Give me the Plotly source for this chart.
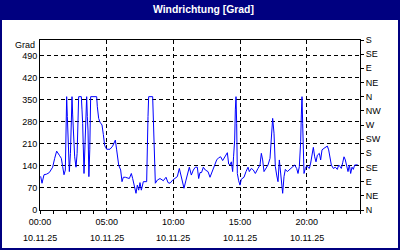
import plotly.graph_objects as go

# ---- data ----
day = "2025-11-10"
times = [
    "00:03", "00:09", "00:18", "00:30", "00:42", "00:51", "00:57", "01:06", "01:15", "01:27",
    "01:36", "01:42", "01:48", "01:54", "01:57", "02:00", "02:03", "02:07", "02:12", "02:17",
    "02:21", "02:24", "02:27", "02:31", "02:36", "02:42", "02:47", "02:54", "03:06", "03:09",
    "03:12", "03:18", "03:22", "03:27", "03:30", "03:33", "03:36", "03:40", "03:44", "03:48",
    "04:15", "04:18", "04:24", "04:30", "04:39", "04:45", "04:51", "05:00", "05:15", "05:27",
    "05:39", "05:45", "05:54", "06:03", "06:09", "06:15", "06:24", "06:42", "06:51", "06:57",
    "07:03", "07:12", "07:18", "07:24", "07:30", "07:36", "07:45", "08:00", "08:06", "08:09",
    "08:27", "08:30", "08:39", "08:48", "09:00", "09:15", "09:27", "09:36", "09:45", "09:57",
    "10:09", "10:18", "10:27", "10:33", "10:42", "10:48", "10:57", "11:06", "11:12", "11:21",
    "11:30", "11:39", "11:48", "11:54", "12:00", "12:07", "12:15", "12:24", "12:36", "12:45",
    "12:54", "13:03", "13:15", "13:24", "13:33", "13:42", "13:54", "14:03", "14:09", "14:15",
    "14:21", "14:27", "14:31", "14:36", "14:39", "14:42", "14:45", "14:48", "14:54", "15:00",
    "15:06", "15:18", "15:27", "15:36", "15:42", "15:51", "16:00", "16:09", "16:21", "16:30",
    "16:36", "16:42", "16:48", "16:57", "17:06", "17:15", "17:21", "17:27", "17:33", "17:39",
    "17:45", "17:51", "17:57", "18:03", "18:09", "18:12", "18:18", "18:24", "18:33", "18:42",
    "18:51", "19:06", "19:15", "19:21", "19:27", "19:33", "19:36", "19:39", "19:42", "19:45",
    "19:48", "19:54", "20:00", "20:06", "20:12", "20:18", "20:24", "20:30", "20:36", "20:42",
    "20:48", "20:57", "21:03", "21:09", "21:18", "21:27", "21:33", "21:39", "21:45", "21:51",
    "22:00", "22:09", "22:18", "22:24", "22:30", "22:36", "22:42", "22:48", "22:54", "23:00",
    "23:06", "23:12", "23:18", "23:24", "23:30", "23:36", "23:45", "23:48",
]
direction = [
    107, 85, 112, 114, 119, 127, 136, 164, 187, 174,
    164, 138, 112, 127, 316, 360, 297, 201, 122, 180,
    297, 360, 302, 212, 169, 136, 180, 360, 360, 318,
    275, 116, 201, 318, 360, 297, 254, 106, 191, 360,
    360, 328, 291, 279, 270, 240, 205, 193, 193, 203,
    222, 191, 143, 127, 90, 104, 104, 100, 116, 100,
    79, 53, 79, 63, 87, 63, 90, 90, 297, 360,
    360, 297, 85, 95, 100, 93, 104, 87, 85, 95,
    100, 106, 132, 111, 85, 69, 95, 122, 136, 111,
    127, 136, 136, 100, 119, 119, 136, 127, 122, 104,
    122, 140, 159, 166, 169, 157, 169, 182, 146, 143,
    153, 122, 169, 222, 318, 360, 275, 116, 93, 79,
    98, 104, 122, 136, 122, 132, 127, 116, 132, 143,
    180, 159, 122, 132, 143, 164, 222, 291, 244, 138,
    111, 90, 159, 122, 90, 53, 106, 129, 122, 127,
    132, 143, 132, 116, 138, 217, 302, 360, 275, 138,
    116, 132, 140, 136, 132, 149, 169, 199, 169, 153,
    174, 180, 159, 191, 196, 201, 203, 191, 169, 143,
    132, 136, 129, 143, 138, 132, 150, 169, 159, 143,
    122, 143, 116, 136, 129, 143, 143, 146,
]
x_ticks = ["00:00", "05:00", "10:00", "15:00", "20:00"]
x_dates = ["10.11.25", "10.11.25", "10.11.25", "10.11.25", "10.11.25"]
y_ticks = [0, 70, 140, 210, 280, 350, 420, 490]
compass_vals = [0, 45, 90, 135, 180, 225, 270, 315, 360, 405, 450, 495, 540]
compass_text = ["N", "NE", "E", "SE", "S", "SW", "W", "NW", "N", "NE", "E", "SE", "S"]
title_text = "Windrichtung [Grad]"
unit_text = "Grad"

NAVY = "#000080"
FONT = "Liberation Sans, Arial, sans-serif"
W, H = 400, 250
L, R, T, B = 40, 40, 40, 40
PW, PH = W - L - R, H - T - B


def px_x(px):
    return (px - L) / PW


def px_y(py):
    return (H - B - py) / PH


xs = [f"{day} {t}" for t in times]

fig = go.Figure()
fig.add_trace(go.Scatter(x=xs, y=direction, mode="lines",
                         line=dict(color="#0000ff", width=1), showlegend=False,
                         hoverinfo="skip"))
fig.add_trace(go.Scatter(x=[xs[0]], y=[0], yaxis="y2", mode="markers",
                         marker=dict(opacity=0), showlegend=False, hoverinfo="skip"))

shapes = [
    dict(type="rect", xref="paper", yref="paper", x0=px_x(0), x1=px_x(W),
         y0=px_y(20), y1=px_y(0), fillcolor=NAVY, line=dict(width=0), layer="below"),
    dict(type="rect", xref="paper", yref="paper", x0=px_x(1), x1=px_x(W - 1),
         y0=px_y(H - 1), y1=px_y(1), line=dict(color=NAVY, width=2), layer="above"),
]

annotations = [
    dict(text=f"<b>{title_text}</b>", xref="paper", yref="paper", x=px_x(203), y=px_y(10),
         xanchor="center", yanchor="middle", showarrow=False,
         font=dict(family=FONT, size=10.4, color="white")),
    dict(text=unit_text, xref="paper", yref="paper", x=px_x(37), y=px_y(45),
         xanchor="right", yanchor="middle", showarrow=False,
         font=dict(family=FONT, size=9, color="black")),
]
for t, d in zip(x_ticks, x_dates):
    annotations.append(dict(text=d, xref="x", yref="paper", x=f"{day} {t}", y=px_y(238),
                            xanchor="center", yanchor="middle", showarrow=False,
                            font=dict(family=FONT, size=9, color="black")))

grid_dash = "4px,3px"
fig.update_layout(
    width=W, height=H, autosize=False,
    margin=dict(l=L, r=R, t=T, b=B, pad=0),
    paper_bgcolor="white", plot_bgcolor="white",
    font=dict(family=FONT, size=9, color="black"),
    shapes=shapes, annotations=annotations,
    xaxis=dict(
        type="date", range=[f"{day} 00:00", "2025-11-11 00:00"],
        tickmode="array", tickvals=[f"{day} {t}" for t in x_ticks], ticktext=x_ticks,
        ticks="outside", ticklen=3, tickcolor="black",
        minor=dict(dtick=3600000, tick0=f"{day} 00:00", ticks="outside", ticklen=3,
                   tickcolor="black", showgrid=False),
        showgrid=True, gridcolor="black", gridwidth=1, griddash=grid_dash,
        showline=True, linecolor="black", linewidth=1, mirror=True,
        zeroline=False, fixedrange=True,
    ),
    yaxis=dict(
        range=[0, 540], tickmode="array", tickvals=y_ticks,
        ticks="", showgrid=True, gridcolor="black", gridwidth=1, griddash=grid_dash,
        showline=True, linecolor="black", linewidth=1, mirror=True,
        zeroline=False, fixedrange=True,
    ),
    yaxis2=dict(
        range=[0, 540], overlaying="y", side="right", tickmode="array",
        tickvals=compass_vals, ticktext=compass_text,
        ticks="outside", ticklen=3, tickcolor="black",
        showgrid=False, showline=False, zeroline=False, fixedrange=True,
    ),
)

fig.write_html("out.html", config={"displayModeBar": False, "staticPlot": True})
